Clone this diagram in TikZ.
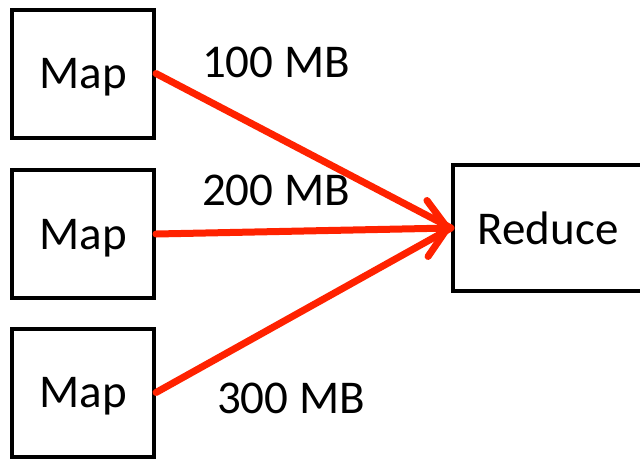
\documentclass[tikz,border=0pt]{standalone}
\usepackage{fontspec}
\setmainfont{Carlito}
\usetikzlibrary{arrows.meta}

\definecolor{flowred}{RGB}{255,34,0}

\begin{document}
\begin{tikzpicture}[x=1pt,y=-1pt,
  box/.style={draw,line width=4pt,minimum width=142pt,minimum height=128pt,inner sep=0pt,text depth=0pt},
  flow/.style={draw=flowred,line width=7pt,line cap=round}]

\useasboundingbox (0,0) rectangle (640,459);
\clip (0,0) rectangle (640,459);

\fontsize{47}{56}\selectfont

\node[box] (map1) at (83,73.5) {Map};
\node[box] (map2) at (83,234) {Map};
\node[box] (map3) at (83,392.5) {Map};
\node[box,minimum width=190pt,minimum height=126pt] (reduce) at (548,228) {Reduce};

\draw[flow] (map1.east) -- (reduce.west);
\draw[flow] (map3.east) -- (reduce.west);
\draw[flow,-{Straight Barb[length=20pt,width=56pt,line cap=round,line join=round]}] (map2.east) -- (reduce.west);

\node (lbl1) at (276,62) {100 MB};
\node (lbl2) at (276,190) {200 MB};
\node (lbl3) at (291,398) {300 MB};

\end{tikzpicture}
\end{document}
